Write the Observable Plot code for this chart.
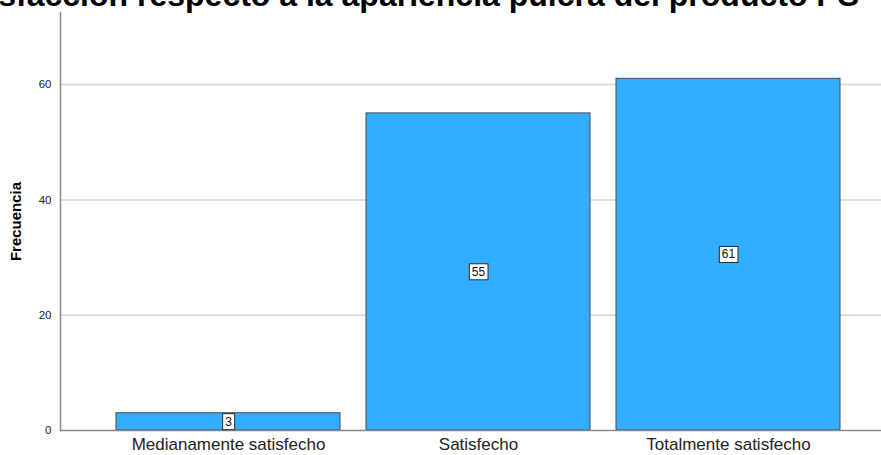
<!DOCTYPE html>
<html>
<head>
<meta charset="utf-8">
<script src="https://cdn.jsdelivr.net/npm/d3@7"></script>
<script src="https://cdn.jsdelivr.net/npm/@observablehq/plot@0.6"></script>
<style>
  html, body { margin: 0; padding: 0; background: #fff; overflow: hidden; }
  #wrap { position: relative; width: 881px; height: 455px; overflow: hidden; font-family: Arial, "Liberation Sans", sans-serif; }
  #title { position: absolute; z-index: 2; right: 22px; top: -21px; white-space: nowrap; font: bold 32px/32px Arial, "Liberation Sans", sans-serif; color: #000; }
  #chart { position: absolute; z-index: 1; left: 0; top: 0; }
  #chart svg g[aria-label="y-axis label"] text { font-weight: bold; font-size: 15px; fill: #000; }
</style>
</head>
<body>
<div id="wrap">
  <div id="title">Satisfacción respecto a la apariencia pulcra del producto PS</div>
  <div id="chart"></div>
</div>
<script>
const categories = ["Medianamente satisfecho", "Satisfecho", "Totalmente satisfecho"];
const frequencies = [3, 55, 61];
const yTicks = [0, 20, 40, 60];
const yGrid = [20, 40, 60];

const data = categories.map((c, i) => ({category: c, value: frequencies[i]}));

const chart = Plot.plot({
  width: 881,
  height: 455,
  marginTop: 12,
  marginBottom: 25,
  marginLeft: 60,
  marginRight: 0,
  style: {fontFamily: "Arial, 'Liberation Sans', sans-serif", background: "transparent"},
  x: {domain: categories, range: [60, 895], paddingInner: 0.104, paddingOuter: 0.22, align: 0.5},
  y: {domain: [0, 72.5]},
  marks: [
    Plot.gridY(yGrid, {stroke: "#d4d4d4", strokeOpacity: 1, strokeWidth: 1.5}),
    Plot.barY(data, {x: "category", y: "value", fill: "#33adff", stroke: "#4a4a4a", strokeWidth: 1}),
    Plot.ruleY([0], {stroke: "#888", strokeWidth: 1.5}),
    Plot.frame({anchor: "left", stroke: "#888", strokeWidth: 1.5}),
    Plot.axisY(yTicks, {tickSize: 0, tickPadding: 9, fontSize: 11.5, color: "#222", label: "Frecuencia", labelAnchor: "center", labelOffset: 50, labelArrow: "none"}),
    Plot.axisX({tickSize: 0, tickPadding: 7, fontSize: 17, color: "#222", label: null}),
    Plot.text(data, {x: "category", y: d => d.value / 2, text: d => String(d.value), fontSize: 12, fill: "#111", className: "vlabels"})
  ]
});
document.getElementById("chart").append(chart);

// white boxes behind the value labels
const labelTexts = Array.from(chart.querySelectorAll("text")).filter(t => {
  const g = t.closest("g");
  const al = g ? (g.getAttribute("aria-label") || "") : "";
  return !al.includes("axis") && frequencies.map(String).includes(t.textContent.trim());
});
labelTexts.forEach(t => {
  const b = t.getBBox();
  const r = document.createElementNS("http://www.w3.org/2000/svg", "rect");
  r.setAttribute("x", b.x - 2.5);
  r.setAttribute("y", b.y - 1);
  r.setAttribute("width", b.width + 5);
  r.setAttribute("height", b.height + 2);
  r.setAttribute("fill", "#fff");
  r.setAttribute("stroke", "#2a2a2a");
  r.setAttribute("stroke-width", 1);
  if (t.getAttribute("transform")) r.setAttribute("transform", t.getAttribute("transform"));
  t.parentNode.insertBefore(r, t);
});
</script>
</body>
</html>
